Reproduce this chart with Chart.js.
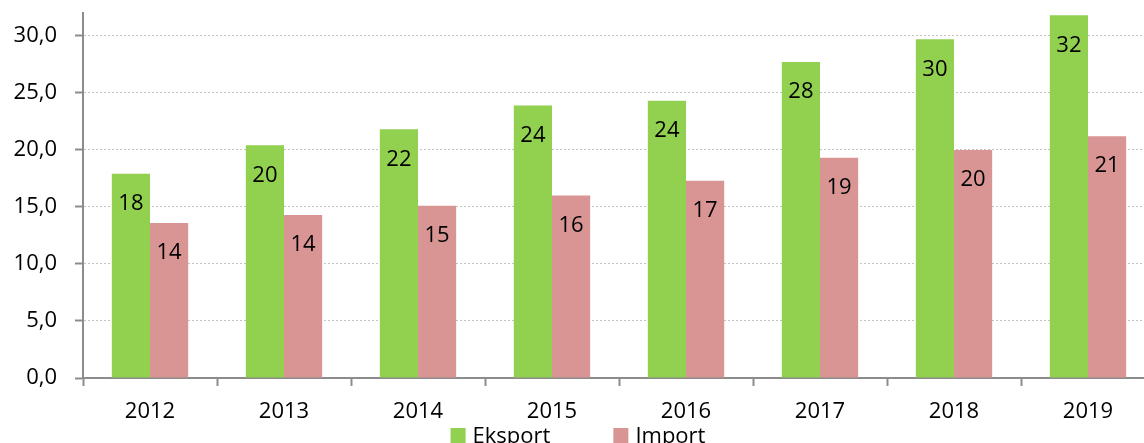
<!DOCTYPE html>
<html>
<head>
<meta charset="utf-8">
<script src="https://cdn.jsdelivr.net/npm/chart.js@4"></script>
<style>
  html, body { margin: 0; padding: 0; background: #fff; }
  #wrap { width: 1144px; height: 443px; overflow: hidden; position: relative; }
  #box { width: 1160px; height: 443px; }
</style>
</head>
<body>
<div id="wrap"><div id="box"><canvas id="chart"></canvas></div></div>
<script>
// Chart data
const years = ['2012', '2013', '2014', '2015', '2016', '2017', '2018', '2019'];
const eksport = [17.9, 20.4, 21.8, 23.9, 24.3, 27.7, 29.7, 31.8];
const importVals = [13.6, 14.3, 15.1, 16.0, 17.3, 19.3, 20.0, 21.2];
const yTicks = [0, 5, 10, 15, 20, 25, 30];

const FONT = '"Open Sans", sans-serif';

// Value labels inside the top of each bar
const barLabels = {
    id: 'barLabels',
    afterDatasetsDraw(chart) {
        const ctx = chart.ctx;
        ctx.save();
        ctx.font = '22px ' + FONT;
        ctx.fillStyle = '#000';
        ctx.textAlign = 'center';
        ctx.textBaseline = 'middle';
        chart.data.datasets.forEach(function(ds, i) {
            chart.getDatasetMeta(i).data.forEach(function(bar, j) {
                ctx.fillText(Math.round(ds.data[j]), bar.x, bar.y + 30);
            });
        });
        ctx.restore();
    }
};

// Bottom legend, partly clipped like the original
const bottomLegend = {
    id: 'bottomLegend',
    afterDraw(chart) {
        const ctx = chart.ctx;
        const gap = 63, box = 15, space = 7;
        ctx.save();
        ctx.font = '22px ' + FONT;
        const items = chart.data.datasets.map(function(ds) {
            return { text: ds.label, color: ds.backgroundColor, w: box + space + ctx.measureText(ds.label).width };
        });
        const total = items.reduce(function(s, it) { return s + it.w; }, 0) + gap * (items.length - 1);
        let x = chart.width / 2 - total / 2 - 2;
        const baseline = 443;
        items.forEach(function(it) {
            ctx.fillStyle = it.color;
            ctx.fillRect(x, 428, box, box);
            ctx.fillStyle = '#000';
            ctx.textBaseline = 'alphabetic';
            ctx.fillText(it.text, x + box + space, baseline);
            x += it.w + gap;
        });
        ctx.restore();
    }
};

new Chart(document.getElementById('chart'), {
    type: 'bar',
    data: {
        labels: years,
        datasets: [
            { label: 'Eksport', data: eksport, backgroundColor: '#92d050' },
            { label: 'Import', data: importVals, backgroundColor: '#d99594' }
        ]
    },
    options: {
        responsive: true,
        maintainAspectRatio: false,
        animation: false,
        layout: { padding: { top: 13, right: 5, bottom: 19, left: 0 } },
        plugins: {
            legend: { display: false },
            tooltip: { enabled: false }
        },
        datasets: {
            bar: { categoryPercentage: 0.57, barPercentage: 1 }
        },
        scales: {
            x: {
                grid: {
                    offset: true,
                    drawOnChartArea: false,
                    tickLength: 8,
                    tickColor: '#8c8c8c',
                    tickWidth: 2
                },
                border: { color: '#8c8c8c', width: 2 },
                ticks: {
                    color: '#000',
                    padding: 13,
                    font: { family: FONT, size: 22 }
                },
                afterFit: function(scale) { scale.height = 46; }
            },
            y: {
                min: 0,
                max: 32,
                afterBuildTicks: function(scale) {
                    scale.ticks = yTicks.map(function(v) { return { value: v }; });
                },
                grid: {
                    color: '#c4c4c4',
                    lineWidth: 1,
                    tickLength: 8,
                    tickColor: '#8c8c8c',
                    tickWidth: 2,
                    tickBorderDash: []
                },
                border: { color: '#8c8c8c', width: 2, dash: [2, 2] },
                ticks: {
                    color: '#000',
                    padding: 18,
                    font: { family: FONT, size: 22 },
                    callback: function(v) { return v.toFixed(1).replace('.', ','); }
                },
                afterFit: function(scale) {
                    scale.width = 83;
                    scale.paddingTop = 0;
                    scale.paddingBottom = 0;
                }
            }
        }
    },
    plugins: [barLabels, bottomLegend]
});
</script>
</body>
</html>
